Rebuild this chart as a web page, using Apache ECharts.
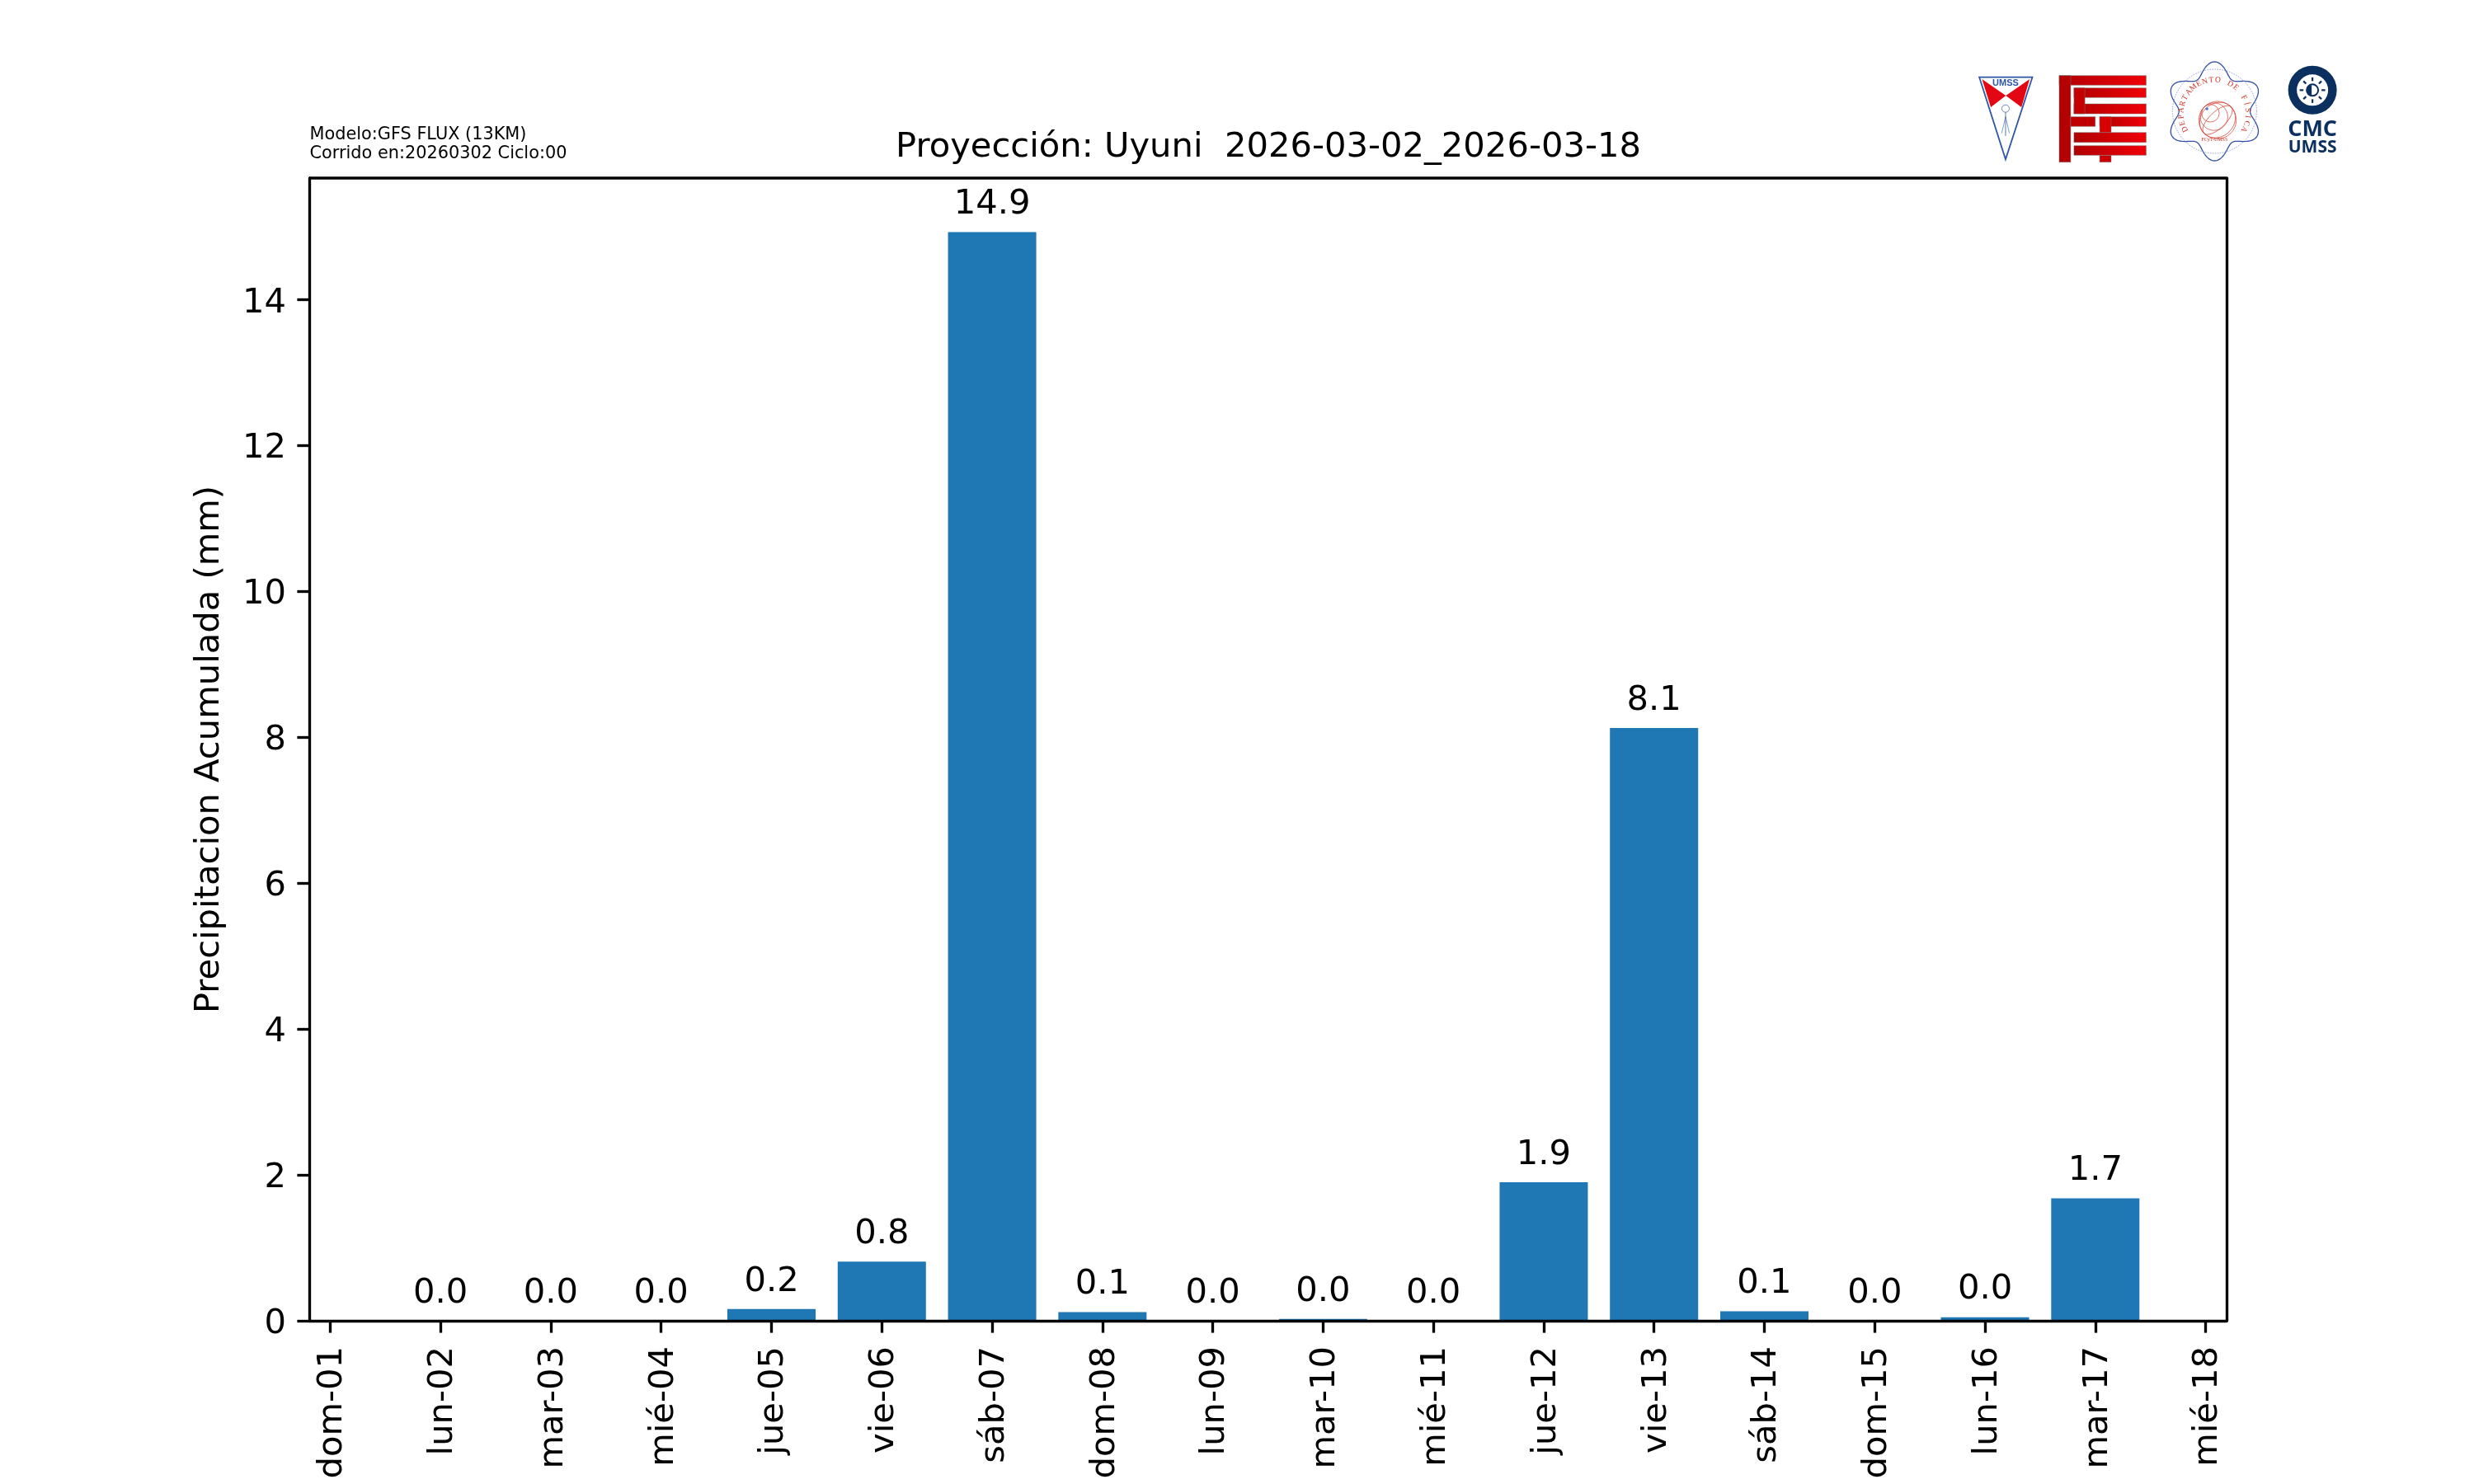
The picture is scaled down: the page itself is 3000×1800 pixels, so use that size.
<!DOCTYPE html>
<html><head><meta charset="utf-8">
<style>html,body{margin:0;padding:0;background:#fff}#c{width:3000px;height:1800px}</style>
<script src="https://cdn.jsdelivr.net/npm/echarts@6/dist/echarts.min.js"></script>
</head><body><div id="c"></div>
<script>
const dayLabels = ['dom-01','lun-02','mar-03','mié-04','jue-05','vie-06','sáb-07','dom-08','lun-09','mar-10','mié-11','jue-12','vie-13','sáb-14','dom-15','lun-16','mar-17','mié-18'];
const precip = [null,0.0,0.0,0.0,0.16,0.81,14.93,0.12,0.0,0.025,0.0,1.9,8.13,0.13,0.0,0.049,1.68,null];
const yTicks = [0,2,4,6,8,10,12,14];
const titleText = 'Proyección: Uyuni  2026-03-02_2026-03-18';
const noteLines = ['Modelo:GFS FLUX (13KM)','Corrido en:20260302 Ciclo:00'];
const yName = 'Precipitacion Acumulada (mm)';

const FONT = 'DejaVu Sans', FS = 41.67, LW = 3.33;
const RED = '#e30613', NAVY = '#0b2f5f', BLUE = '#2f55a4';

// logo helpers: zoom-crop coordinates -> page pixels
const zx = v => 2361 + v / 3.015, zy = v => 50 + v / 3;
const P = a => a.map(p => [zx(p[0]), zy(p[1])]);
const logos = [];
function poly(pts, style){ logos.push({type:'polygon', shape:{points:P(pts)}, style}); }
function box(x0,y0,x1,y1,fill){ logos.push({type:'rect', shape:{x:zx(x0),y:zy(y0),width:(x1-x0)/3.015,height:(y1-y0)/3}, style:{fill, stroke:'#777', lineWidth:0.5}}); }
function txt(x,y,text,size,fill,extra){ logos.push({type:'text', x:zx(x), y:zy(y), rotation:(extra&&extra.rot)||0,
  style:Object.assign({text, fontSize:size, fill, fontFamily:(extra&&extra.fam)||'Liberation Sans', fontWeight:(extra&&extra.w)||'normal', align:'center', verticalAlign:'middle'})}); }

// UMSS shield
poly([[118,131],[312,131],[214,430]], {fill:'#fff', stroke:BLUE, lineWidth:1.8});
poly([[128,138],[215,198],[160,240]], {fill:RED});
poly([[302,138],[215,198],[272,240]], {fill:RED});
txt(214,153,'UMSS',11,BLUE,{w:'bold'});
logos.push({type:'circle', shape:{cx:zx(214),cy:zy(245),r:4.5}, style:{fill:'none',stroke:BLUE,lineWidth:0.7}});
logos.push({type:'line', shape:{x1:zx(214),y1:zy(258),x2:zx(214),y2:zy(345)}, style:{stroke:BLUE,lineWidth:0.8}});
logos.push({type:'line', shape:{x1:zx(214),y1:zy(275),x2:zx(200),y2:zy(335)}, style:{stroke:BLUE,lineWidth:0.6}});
logos.push({type:'line', shape:{x1:zx(214),y1:zy(275),x2:zx(228),y2:zy(335)}, style:{stroke:BLUE,lineWidth:0.6}});

// FCyT block
const grad = {type:'linear', x:0,y:0,x2:1,y2:0, colorStops:[{offset:0,color:'#b00000'},{offset:1,color:'#f00008'}]};
box(558,415,600,440,'#cc0000');
box(410,125,728,160,grad);
box(464,170,728,205,grad);
box(464,228,728,264,grad);
box(464,170,504,264,'#c40000');
box(410,125,452,440,'#b40000');
box(452,275,542,310,'#c00000');
box(558,275,728,310,grad);
box(464,332,728,368,grad);
box(464,380,728,415,grad);
box(558,275,600,332,'#d80000');

// Physics department stamp
const cx = 978, cy = 255, wavy = [];
for (let i = 0; i < 240; i++) {
  const t = i / 240 * Math.PI * 2, r = 155 + 25 * Math.cos(6 * (t + Math.PI / 2));
  wavy.push([cx + r * Math.cos(t), cy + r * Math.sin(t)]);
}
poly(wavy, {fill:'none', stroke:'#3350a8', lineWidth:1.3});
logos.push({type:'circle', shape:{cx:zx(cx),cy:zy(cy),r:51}, style:{fill:'none',stroke:'#6f86cc',lineWidth:0.8,lineDash:[1.5,1.5]}});
const stamp = 'DEPARTAMENTO DE FÍSICA';
[...stamp].forEach((ch,i)=>{
  const ang = (-118 + i * (236/(stamp.length-1))) * Math.PI/180;
  const R = 122;
  txt(cx + R*Math.sin(ang), cy + 8 - R*Math.cos(ang), ch, 9.5, '#cf2f22', {fam:'Liberation Serif', rot:-ang});
});
const red2 = '#d23a2e', pole = [940,240], dir = [0.72,0.69];
[68,50,32].forEach(r=>logos.push({type:'circle', shape:{cx:zx(pole[0]+dir[0]*r),cy:zy(pole[1]+dir[1]*r),r:r/3}, style:{fill:'none',stroke:red2,lineWidth:0.7}}));
[10,20].forEach(rx=>logos.push({type:'ellipse', x:zx(pole[0]+dir[0]*68), y:zy(pole[1]+dir[1]*68), rotation:-Math.atan2(dir[0],dir[1])+Math.PI/2, shape:{cx:0,cy:0,rx:23,ry:rx}, style:{fill:'none',stroke:red2,lineWidth:0.7}}));
logos.push({type:'circle', shape:{cx:zx(950),cy:zy(246),r:1.8}, style:{fill:'#5a78b8'}});
txt(978,358,'FCyT-UMSS',6,'#cf2f22',{fam:'Liberation Serif'});

// CMC logo
logos.push({type:'ring', shape:{cx:zx(1336),cy:zy(178),r:29.5,r0:19}, style:{fill:NAVY}});
logos.push({type:'ring', shape:{cx:zx(1336),cy:zy(178),r:8,r0:6}, style:{fill:NAVY}});
logos.push({type:'sector', shape:{cx:zx(1333),cy:zy(178),r:6,startAngle:Math.PI/2,endAngle:Math.PI*1.5}, style:{fill:NAVY}});
for (let k = 0; k < 8; k++) {
  const a = k * Math.PI / 4, c = Math.cos(a), s = Math.sin(a);
  logos.push({type:'line', shape:{x1:zx(1336)+c*11,y1:zy(178)+s*11,x2:zx(1336)+c*15.5,y2:zy(178)+s*15.5}, style:{stroke:NAVY,lineWidth:2.2}});
}
txt(1336,323,'CMC',27,NAVY,{w:'bold',fam:'Open Sans'});
txt(1336,386,'UMSS',21,NAVY,{w:'bold',fam:'Open Sans'});

const notes = noteLines.map((t,i)=>({type:'text', x:375.5, y:153 + i*22.7,
  style:{text:t, fontFamily:FONT, fontSize:20.83, fill:'#000', align:'left', verticalAlign:'alphabetic'}}));

const chart = echarts.init(document.getElementById('c'), null, {renderer:'canvas'});
const ticks = dayLabels.map((_,i)=>i);
chart.setOption({
  animation:false,
  backgroundColor:'#fff',
  title:{text:titleText, left:1533, top:153, textAlign:'center',
    textStyle:{fontFamily:FONT,fontSize:FS,fontWeight:'normal',color:'#000'}},
  grid:{left:375, right:300, top:216, bottom:198, containLabel:false, show:false},
  xAxis:{type:'value', min:-0.19, max:17.19, z:5,
    splitLine:{show:false},
    axisLine:{show:true, onZero:false, lineStyle:{color:'#000',width:LW}},
    axisTick:{show:true, length:14.6, customValues:ticks, lineStyle:{color:'#000',width:LW}},
    axisLabel:{show:true, rotate:90, margin:31, verticalAlign:'top', padding:[-18,0,0,0], customValues:ticks, fontFamily:FONT, fontSize:FS, color:'#000',
      formatter:v=>dayLabels[Math.round(v)]}},
  yAxis:[{type:'value', min:0, max:15.67, z:5,
    name:yName, nameLocation:'middle', nameGap:100, nameTextStyle:{fontFamily:FONT,fontSize:FS,color:'#000'},
    splitLine:{show:false},
    axisLine:{show:true, onZero:false, lineStyle:{color:'#000',width:LW}},
    axisTick:{show:true, length:14.6, customValues:yTicks, lineStyle:{color:'#000',width:LW}},
    axisLabel:{show:true, margin:28, verticalAlign:'top', padding:[-17,0,0,0], customValues:yTicks, fontFamily:FONT, fontSize:FS, color:'#000'}},
   {type:'value', position:'right', min:0, max:15.67, z:5, splitLine:{show:false},
    axisLine:{show:true, onZero:false, lineStyle:{color:'#000',width:LW}}, axisTick:{show:false}, axisLabel:{show:false}}],
  series:[{type:'bar', barWidth:107, itemStyle:{color:'#1f77b4'},
    data:precip.map((v,i)=>[i,v]).filter(d=>d[1]!==null),
    label:{show:true, position:'top', distance:12, fontFamily:FONT, fontSize:FS, color:'#000',
      formatter:p=>p.value[1].toFixed(1)}}],
  graphic:{elements:[
    ...notes,
    {type:'line', z:5, shape:{x1:375,y1:216,x2:2700,y2:216}, style:{stroke:'#000',lineWidth:LW}},
    ...logos
  ]}
});
</script></body></html>
